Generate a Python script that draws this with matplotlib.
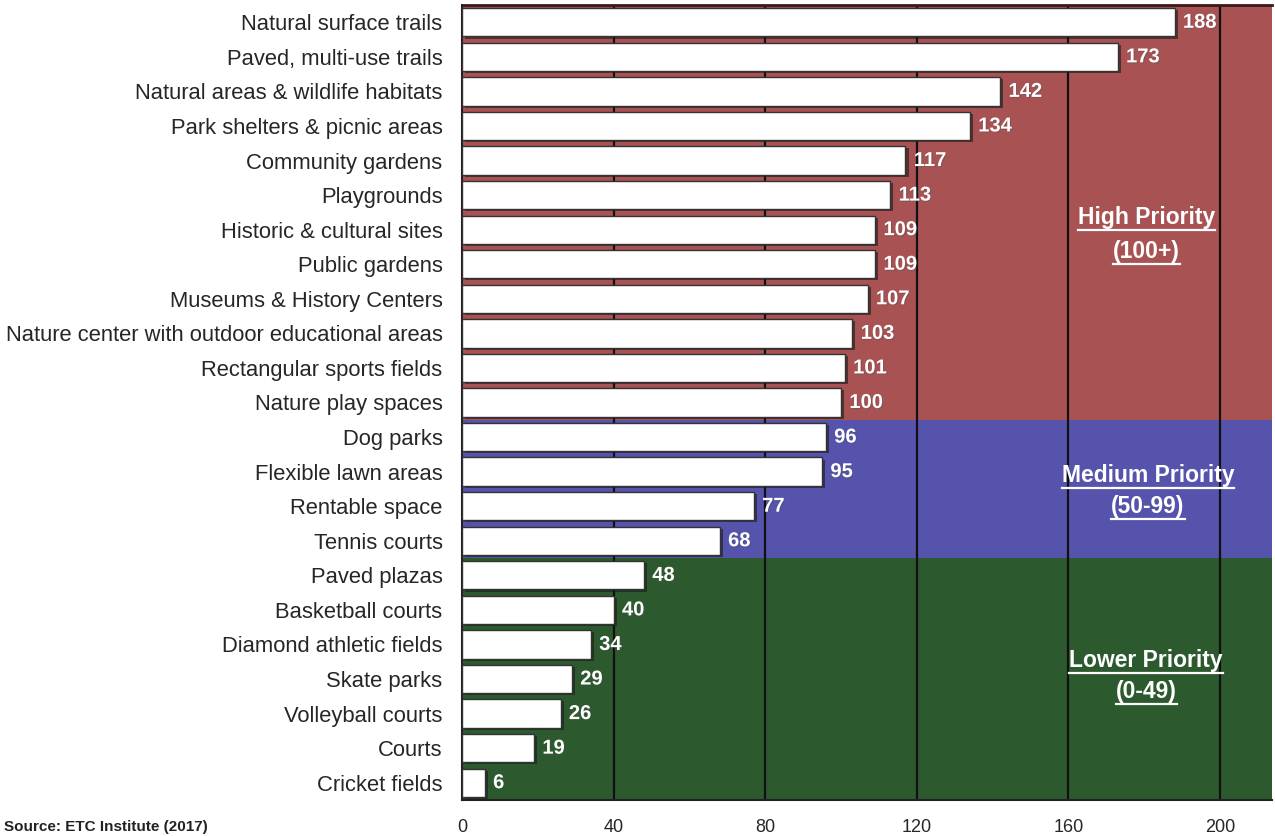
import matplotlib
matplotlib.use("Agg")
import matplotlib.pyplot as plt
from matplotlib.lines import Line2D
import matplotlib.patheffects as pe

plt.rcParams['font.family'] = ['Liberation Sans', 'DejaVu Sans']

categories = [
    "Natural surface trails", "Paved, multi-use trails", "Natural areas & wildlife habitats",
    "Park shelters & picnic areas", "Community gardens", "Playgrounds",
    "Historic & cultural sites", "Public gardens", "Museums & History Centers",
    "Nature center with outdoor educational areas", "Rectangular sports fields",
    "Nature play spaces", "Dog parks", "Flexible lawn areas", "Rentable space",
    "Tennis courts", "Paved plazas", "Basketball courts", "Diamond athletic fields",
    "Skate parks", "Volleyball courts", "Courts", "Cricket fields",
]
values = [188, 173, 142, 134, 117, 113, 109, 109, 107, 103, 101, 100,
          96, 95, 77, 68, 48, 40, 34, 29, 26, 19, 6]
xticks = [0, 40, 80, 120, 160, 200]
band_titles = ["High Priority", "Medium Priority", "Lower Priority"]
band_subs = ["(100+)", "(50-99)", "(0-49)"]
band_rows = [(0, 12), (12, 16), (16, 23)]
band_colors = ["#a85253", "#5553ab", "#2c5a2e"]
source_text = "Source: ETC Institute (2017)"

fig = plt.figure(figsize=(12.75, 8.36), dpi=100)
ax = fig.add_axes([462/1275, 36/836, 810/1275, 795/836])
n = len(categories)
ax.set_xlim(0, 213.7)
ax.set_ylim(n - 0.5, -0.5)

label_pos = [(180.5, 5.66, 6.64), (181.0, 13.1, 14.02), (180.5, 18.45, 19.37)]
for (r0, r1), col in zip(band_rows, band_colors):
    ax.axhspan(r0 - 0.5, r1 - 0.5, color=col, zorder=0, lw=0)

for xv in xticks[1:]:
    ax.axvline(xv, color="#111111", lw=1.6, zorder=1)

ys = list(range(n))
# shadow
ax.barh([y + 0.06 for y in ys], values, left=0.8, height=0.82, color="#1a1a1a", alpha=0.6, zorder=2, lw=0)
ax.barh(ys, values, height=0.82, color="white", edgecolor="#333333", lw=1.0, zorder=3)

for y, v in zip(ys, values):
    ax.text(v + 2.2, y, str(v), color="white", fontsize=14.5, fontweight="bold",
            va="center", ha="left", zorder=4,
            path_effects=[pe.withSimplePatchShadow(offset=(0.8, -0.8), alpha=0.35)])

ax.set_yticks(ys)
ax.set_yticklabels(categories, fontsize=15.8, color="#262626")
ax.set_xticks(xticks)
ax.set_xticklabels([str(t) for t in xticks], fontsize=13, color="#262626")
ax.tick_params(axis="y", length=0, pad=14)
ax.tick_params(axis="x", length=0, pad=14)
ax.spines["right"].set_visible(False)
ax.spines["left"].set_color("#222222")
ax.spines["left"].set_linewidth(1.5)
ax.spines["bottom"].set_color("#222222")
ax.spines["bottom"].set_linewidth(1.5)
ax.spines["top"].set_color("#3a1a1a")
ax.spines["top"].set_linewidth(2)

texts = []
for title, sub, (xc, y1, y2) in zip(band_titles, band_subs, label_pos):
    t1 = ax.text(xc, y1, title, color="white", fontsize=16.5, fontweight="bold",
                 ha="center", va="center", zorder=5)
    t2 = ax.text(xc, y2, sub, color="white", fontsize=16.5, fontweight="bold",
                 ha="center", va="center", zorder=5)
    texts += [t1, t2]

fig.text(0.003, 0.002, source_text, fontsize=11, fontweight="bold", color="#222222", ha="left", va="bottom")

fig.canvas.draw()
r = fig.canvas.get_renderer()
for t in texts:
    bb = t.get_window_extent(renderer=r)
    yline = bb.y0 - 1.0
    fig.add_artist(Line2D([bb.x0 / 1275, bb.x1 / 1275], [yline / 836, yline / 836],
                          color="white", lw=1.6, transform=fig.transFigure, zorder=6))

fig.savefig("out.png", dpi=100)
